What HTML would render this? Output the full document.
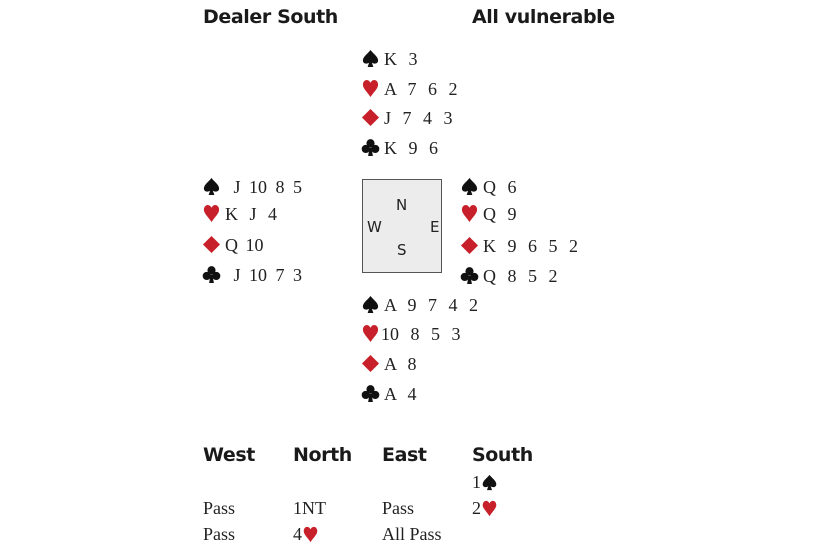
<!DOCTYPE html>
<html><head><meta charset="utf-8"><style>
body{margin:0;width:820px;height:550px;background:#fff;position:relative;overflow:hidden}
.h{position:absolute;font-family:"DejaVu Sans","Liberation Sans",sans-serif;font-weight:bold;font-size:19px;color:#1a1a1a;line-height:24px;letter-spacing:-0.4px}
.r{position:absolute;font-family:"Liberation Serif",serif;font-size:18px;color:#222;line-height:22px;white-space:pre;word-spacing:7px}
svg.s{display:inline-block;width:19px;height:19px;vertical-align:-3px;margin-right:4px}
.box{position:absolute;left:362px;top:179px;width:78px;height:92px;background:#ececec;border:1.5px solid #555}
.c{position:absolute;font-family:"DejaVu Sans","Liberation Sans",sans-serif;font-size:15px;color:#222;line-height:16px}
.b{position:absolute;font-family:"Liberation Serif",serif;font-size:18px;color:#222;line-height:22px;white-space:pre}
.b svg.s{width:17px;height:17px;margin:0}
</style></head><body>
<svg width="0" height="0" style="position:absolute">
<defs>
<symbol id="sp" viewBox="0 0 20 20"><path fill="#111" d="M10 1 C7 5 2 8 2 12 C2 15 5 16.5 8.5 14.5 L7 19 L13 19 L11.5 14.5 C15 16.5 18 15 18 12 C18 8 13 5 10 1Z"/></symbol>
<symbol id="he" viewBox="0 0 20 20"><path fill="#c8202a" d="M10 19 C7 14 2 10 2 6 C2 3 4 1 6 1 C8 1 9.3 2.5 10 4 C10.7 2.5 12 1 14 1 C16 1 18 3 18 6 C18 10 13 14 10 19Z"/></symbol>
<symbol id="di" viewBox="0 0 20 20"><path fill="#c8202a" d="M10 1 L19 10 L10 19 L1 10Z"/></symbol>
<symbol id="cl" viewBox="0 0 20 20"><g fill="#111"><circle cx="10" cy="5.5" r="4.3"/><circle cx="5" cy="11.5" r="4.3"/><circle cx="15" cy="11.5" r="4.3"/><path d="M9 10 L7.5 19 L12.5 19 L11 10Z"/></g></symbol>
</defs></svg>
<div class="h" style="left:203px;top:5px">Dealer South</div>
<div class="h" style="left:472px;top:5px">All vulnerable</div>

<div class="r" style="left:361px;top:48px"><svg class="s"><use href="#sp"/></svg>K 3</div>
<div class="r" style="left:361px;top:78px"><svg class="s"><use href="#he"/></svg>A 7 6 2</div>
<div class="r" style="left:361px;top:107px"><svg class="s"><use href="#di"/></svg>J 7 4 3</div>
<div class="r" style="left:361px;top:137px"><svg class="s"><use href="#cl"/></svg>K 9 6</div>

<div class="r" style="left:202px;top:176px;word-spacing:4px"><svg class="s"><use href="#sp"/></svg> J 10 8 5</div>
<div class="r" style="left:202px;top:203px"><svg class="s"><use href="#he"/></svg>K J 4</div>
<div class="r" style="left:202px;top:234px;word-spacing:3px"><svg class="s"><use href="#di"/></svg>Q 10</div>
<div class="r" style="left:202px;top:264px;word-spacing:4px"><svg class="s"><use href="#cl"/></svg> J 10 7 3</div>

<div class="box"></div>
<div class="c" style="left:396px;top:197px">N</div>
<div class="c" style="left:367px;top:219px">W</div>
<div class="c" style="left:430px;top:219px">E</div>
<div class="c" style="left:397px;top:242px">S</div>

<div class="r" style="left:460px;top:176px"><svg class="s"><use href="#sp"/></svg>Q 6</div>
<div class="r" style="left:460px;top:203px"><svg class="s"><use href="#he"/></svg>Q 9</div>
<div class="r" style="left:460px;top:235px"><svg class="s"><use href="#di"/></svg>K 9 6 5 2</div>
<div class="r" style="left:460px;top:265px"><svg class="s"><use href="#cl"/></svg>Q 8 5 2</div>

<div class="r" style="left:361px;top:294px"><svg class="s"><use href="#sp"/></svg>A 9 7 4 2</div>
<div class="r" style="left:361px;top:323px"><svg class="s" style="margin-right:1px"><use href="#he"/></svg>10 8 5 3</div>
<div class="r" style="left:361px;top:353px"><svg class="s"><use href="#di"/></svg>A 8</div>
<div class="r" style="left:361px;top:383px"><svg class="s"><use href="#cl"/></svg>A 4</div>

<div class="h" style="left:203px;top:443px">West</div>
<div class="h" style="left:293px;top:443px">North</div>
<div class="h" style="left:382px;top:443px">East</div>
<div class="h" style="left:472px;top:443px">South</div>

<div class="b" style="left:472px;top:471px">1<svg class="s"><use href="#sp"/></svg></div>
<div class="b" style="left:203px;top:497px">Pass</div>
<div class="b" style="left:293px;top:497px">1NT</div>
<div class="b" style="left:382px;top:497px">Pass</div>
<div class="b" style="left:472px;top:497px">2<svg class="s"><use href="#he"/></svg></div>
<div class="b" style="left:203px;top:523px">Pass</div>
<div class="b" style="left:293px;top:523px">4<svg class="s"><use href="#he"/></svg></div>
<div class="b" style="left:382px;top:523px">All Pass</div>
</body></html>
